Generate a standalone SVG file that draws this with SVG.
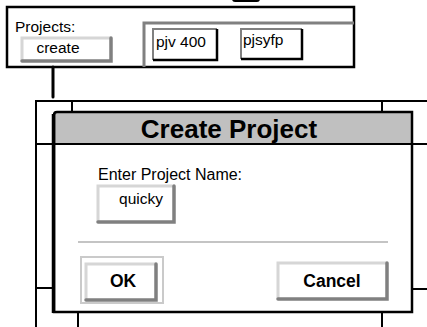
<svg xmlns="http://www.w3.org/2000/svg" width="427" height="327" viewBox="0 0 427 327">
  <style>
    text { font-family: "Liberation Sans", Arial, sans-serif; fill: #000; }
    .lbl { font-size: 15.5px; }
    .prompt { font-size: 16px; }
    .title { font-size: 26px; font-weight: bold; }
    .btnTxt { font-size: 17.5px; font-weight: bold; }
    .frame { fill: none; stroke: #000; stroke-width: 2; }
    .hi { fill: none; stroke: #d6d6d6; stroke-width: 3; stroke-linecap: round; }
    .lo { fill: none; stroke: #808080; stroke-width: 3.5; stroke-linecap: round; }
    .list-hi { fill: none; stroke: #808080; stroke-width: 2; }
    .list-lo { fill: none; stroke: #000; stroke-width: 2.5; }
  </style>

  <rect width="427" height="327" fill="#fff"/>

  <!-- partial element clipped at the top edge -->
  <rect x="232" y="-6" width="28" height="8" rx="3" fill="#000"/>

  <!-- background window frame behind the dialog -->
  <g id="back-frame">
    <path class="frame" d="M36 327 V101 H427"/>
    <path class="frame" d="M36 144 H56 M410 144 H427"/>
    <path class="frame" d="M36 288 H56 M410 289 H427"/>
    <path class="frame" d="M72 101 V113 M382 101 V113"/>
    <path class="frame" d="M78 311 V327 M382 311 V327"/>
  </g>

  <!-- projects panel -->
  <g id="projects-panel">
    <rect x="7" y="7" width="347" height="60" fill="#fff" stroke="#000" stroke-width="2.5"/>
    <text class="lbl" x="15" y="32">Projects:</text>
  </g>

  <g id="create-button">
    <rect x="21" y="37" width="91" height="24" rx="2" fill="#fff"/>
    <path class="hi" d="M22 60 V38 H110"/>
    <path class="lo" d="M22 61 H111 V38"/>
    <text class="lbl" x="58" y="53" text-anchor="middle">create</text>
  </g>

  <g id="project-list">
    <path d="M144 67 V23 H354" fill="none" stroke="#808080" stroke-width="3"/>
  </g>

  <g id="item-pjv400">
    <rect x="152" y="29" width="65" height="31" fill="#fff"/>
    <path class="list-hi" d="M153 60 V29 H217"/>
    <path class="list-lo" d="M153 60 H217 V29"/>
    <text class="lbl" x="156" y="47">pjv 400</text>
  </g>

  <g id="item-pjsyfp">
    <rect x="240" y="29" width="62" height="30" fill="#fff"/>
    <path class="list-hi" d="M241 59 V29 H302"/>
    <path class="list-lo" d="M241 59 H302 V29"/>
    <text class="lbl" x="243" y="45">pjsyfp</text>
  </g>

  <!-- connectors -->
  <g id="connectors">
    <line x1="53" y1="67" x2="53" y2="97" stroke="#000" stroke-width="3" stroke-linecap="round"/>
  </g>

  <!-- Create Project dialog -->
  <g id="create-project-dialog">
    <rect x="54" y="112" width="358" height="200" fill="#fff"/>
    <rect x="54" y="112" width="358" height="32" fill="#c0c0c0"/>
    <path d="M54 144 H412" stroke="#000" stroke-width="2"/>
    <path d="M54 312 V115 Q54 112 57 112 H412 V312 Z" fill="none" stroke="#000" stroke-width="2.5"/>
    <path d="M53.5 114 V313" stroke="#000" stroke-width="3.5"/>
    <text class="title" x="229" y="138" text-anchor="middle">Create Project</text>
    <text class="prompt" x="98" y="180">Enter Project Name:</text>
    <line x1="78" y1="242" x2="388" y2="242" stroke="#c4c4c4" stroke-width="2"/>
  </g>

  <g id="name-field">
    <rect x="98" y="186" width="76" height="36" rx="2" fill="#fff"/>
    <path class="hi" d="M98 221 V186 H172"/>
    <path class="lo" d="M98 222 H174 V186"/>
    <text class="lbl" x="141" y="204" text-anchor="middle">quicky</text>
  </g>

  <g id="ok-button">
    <rect x="81" y="257" width="82" height="46" fill="none" stroke="#cacaca" stroke-width="2"/>
    <rect x="86" y="263" width="70" height="37" rx="2" fill="#fff"/>
    <path class="hi" d="M86 299 V264 H155"/>
    <path class="lo" d="M86 300 H156 V264"/>
    <text class="btnTxt" x="123" y="287" text-anchor="middle">OK</text>
  </g>

  <g id="cancel-button">
    <rect x="278" y="262" width="109" height="37" rx="2" fill="#fff"/>
    <path class="hi" d="M278 298 V263 H386"/>
    <path class="lo" d="M278 299 H387 V263"/>
    <text class="btnTxt" x="332" y="287" text-anchor="middle">Cancel</text>
  </g>
</svg>
